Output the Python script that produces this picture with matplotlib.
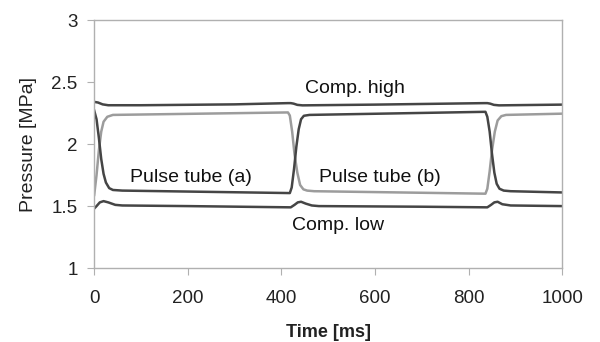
import matplotlib.pyplot as plt

plt.rcParams['font.family'] = ['Liberation Sans', 'DejaVu Sans']

# Compressor high side pressure [MPa]
t_high = [0, 8, 18, 30, 100, 300, 414, 420, 426, 434, 445, 600, 834, 840, 846, 854, 865, 1000]
p_high = [2.34, 2.335, 2.32, 2.313, 2.313, 2.32, 2.33, 2.33, 2.326, 2.316, 2.312, 2.318, 2.33, 2.33, 2.326, 2.316, 2.312, 2.318]

# Compressor low side pressure [MPa]
t_low = [0, 5, 12, 20, 30, 45, 60, 200, 420, 428, 435, 442, 452, 465, 480, 700, 840, 848, 855, 862, 872, 890, 1000]
p_low = [1.48, 1.5, 1.53, 1.54, 1.53, 1.51, 1.505, 1.5, 1.49, 1.51, 1.53, 1.535, 1.52, 1.505, 1.5, 1.495, 1.49, 1.51, 1.53, 1.535, 1.515, 1.505, 1.5]

# Pulse tube (a)
t_a = [0, 5, 10, 15, 20, 25, 32, 40, 60, 418, 422, 427, 432, 437, 442, 448, 460, 836, 840, 845, 850, 855, 860, 866, 875, 890, 1000]
p_a = [2.27, 2.2, 2.05, 1.88, 1.76, 1.69, 1.645, 1.63, 1.625, 1.605, 1.65, 1.8, 1.98, 2.12, 2.2, 2.228, 2.235, 2.26, 2.22, 2.1, 1.92, 1.77, 1.68, 1.64, 1.625, 1.62, 1.61]

# Pulse tube (b)
t_b = [0, 5, 10, 15, 20, 28, 40, 414, 418, 423, 428, 434, 440, 447, 455, 470, 836, 840, 845, 850, 856, 862, 870, 880, 1000]
p_b = [1.59, 1.75, 1.95, 2.1, 2.18, 2.22, 2.235, 2.255, 2.23, 2.1, 1.92, 1.77, 1.67, 1.635, 1.625, 1.62, 1.6, 1.64, 1.78, 1.95, 2.1, 2.19, 2.225, 2.235, 2.245]

x_ticks = [0, 200, 400, 600, 800, 1000]
y_ticks = [1, 1.5, 2, 2.5, 3]
y_tick_labels = ['1', '1.5', '2', '2.5', '3']

dark = '#454545'
light = '#9c9c9c'

fig = plt.figure(figsize=(6.0, 3.42), dpi=100)
ax = fig.add_axes([0.157, 0.216, 0.78, 0.7255])

ax.plot(t_high, p_high, color=dark, lw=1.8)
ax.plot(t_low, p_low, color=dark, lw=1.8)
ax.plot(t_b, p_b, color=light, lw=1.8)
ax.plot(t_a, p_a, color=dark, lw=1.8)

ax.set_xlim(0, 1000)
ax.set_ylim(1, 3)
ax.set_xticks(x_ticks)
ax.set_yticks(y_ticks)
ax.set_yticklabels(y_tick_labels)

for side in ['left', 'bottom', 'top', 'right']:
    ax.spines[side].set_color('#b0b0b0')
    ax.spines[side].set_linewidth(1.0)
ax.tick_params(direction='out', length=5, color='#b0b0b0', labelsize=13.5, labelcolor='#222222', pad=7)
ax.tick_params(axis='x', pad=11)

ax.set_xlabel('Time [ms]', fontsize=13, fontweight='bold', color='#222222', labelpad=12)
ax.set_ylabel('Pressure [MPa]', fontsize=14, color='#222222', labelpad=10)

ax.text(558, 2.45, 'Comp. high', fontsize=14, ha='center', va='center', color='#111111')
ax.text(207, 1.73, 'Pulse tube (a)', fontsize=14, ha='center', va='center', color='#111111')
ax.text(611, 1.73, 'Pulse tube (b)', fontsize=14, ha='center', va='center', color='#111111')
ax.text(521, 1.34, 'Comp. low', fontsize=14, ha='center', va='center', color='#111111')

fig.savefig('out.png', dpi=100)
